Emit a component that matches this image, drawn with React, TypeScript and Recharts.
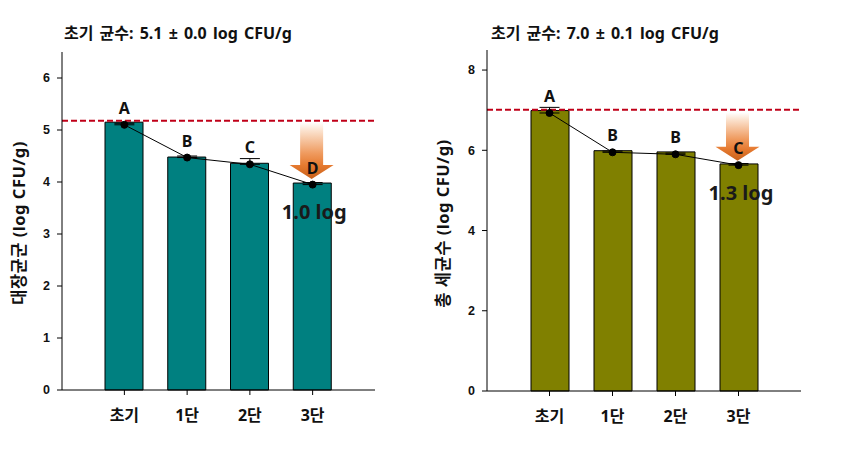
import React from 'react';
import {
  ComposedChart,
  Bar,
  Line,
  XAxis,
  YAxis,
  ReferenceLine,
  ReferenceArea,
  ErrorBar,
  LabelList,
  Label,
} from 'recharts';

// ---------- data ----------
const categories = ['초기', '1단', '2단', '3단'];

// 대장균군 (left panel)
const coliformBars = [5.15, 4.48, 4.36, 3.98];
const coliformPoints = [5.1, 4.47, 4.34, 3.95];
const coliformErrors = [0.03, 0.03, 0.11, 0.04];
const coliformLetters = ['A', 'B', 'C', 'D'];
const coliformNotes = ['', '', '', '1.0 log'];
const coliformInitialLine = 5.18;
const coliformArrow = [4.06, 5.15]; // [tip, top]
const coliformTicks = [0, 1, 2, 3, 4, 5, 6];
const coliformDomain = [0, 6.5];
const coliformTitle = '초기 균수: 5.1 ± 0.0 log CFU/g';
const coliformYLabel = '대장균군 (log CFU/g)';

// 총 세균수 (right panel)
const totalBars = [6.99, 5.99, 5.96, 5.66];
const totalPoints = [6.93, 5.95, 5.9, 5.63];
const totalErrors = [0.14, 0.03, 0.03, 0.04];
const totalLetters = ['A', 'B', 'B', 'C'];
const totalNotes = ['', '', '', '1.3 log'];
const totalInitialLine = 7.01;
const totalArrow = [5.74, 6.94];
const totalTicks = [0, 2, 4, 6, 8];
const totalDomain = [0, 8.5];
const totalTitle = '초기 균수: 7.0 ± 0.1 log CFU/g';
const totalYLabel = '총 세균수 (log CFU/g)';

const KFONT = '"Noto Sans", "Noto Sans CJK KR", sans-serif';
const NFONT = '"Liberation Sans", Arial, sans-serif';

type PanelProps = {
  left: number;
  width: number;
  yAxisWidth: number;
  marginRight: number;
  marginTop: number;
  xAxisHeight: number;
  bars: number[];
  points: number[];
  errors: number[];
  letters: string[];
  notes: string[];
  initialLine: number;
  arrow: number[];
  ticks: number[];
  domain: number[];
  barColor: string;
  yLabel: string;
  yLabelX: number;
  yLabelDy: number;
  gradId: string;
};

function Panel(p: PanelProps) {
  const data = categories.map((cat, i) => ({
    cat,
    bar: p.bars[i],
    point: p.points[i],
    err: [0, p.errors[i]],
    letter: p.letters[i],
    note: p.notes[i],
  }));
  const lastCat = categories[categories.length - 1];

  const arrowShape = (props: any) => {
    const { x, y, width, height } = props;
    const cx = x + width / 2 - 1;
    const yb = y + height;
    const sw = 11.5;
    const hw = 22;
    const hh = 14;
    const pts = [
      [cx - sw, y],
      [cx + sw, y],
      [cx + sw, yb - hh],
      [cx + hw, yb - hh],
      [cx, yb],
      [cx - hw, yb - hh],
      [cx - sw, yb - hh],
    ]
      .map((q) => q.join(','))
      .join(' ');
    return (
      <g>
        <defs>
          <linearGradient id={p.gradId} x1="0" y1="0" x2="0" y2="1">
            <stop offset="0" stopColor="#FFFFFF" />
            <stop offset="0.15" stopColor="#FBE2CE" />
            <stop offset="0.55" stopColor="#EF9A5E" />
            <stop offset="0.76" stopColor="#E67A30" />
            <stop offset="1" stopColor="#C8611A" />
          </linearGradient>
        </defs>
        <polygon points={pts} fill={`url(#${p.gradId})`} stroke="none" />
      </g>
    );
  };

  const noteContent = (props: any) => {
    const { x, y, width, value } = props;
    if (!value) return null;
    return (
      <text
        x={x + width / 2 + 2}
        y={y + 36}
        textAnchor="middle"
        fontFamily={'"Noto Sans", sans-serif'}
        fontWeight={700}
        fontSize={20}
        fill="#1a1a1a"
      >
        {value}
      </text>
    );
  };

  const yLabelContent = (props: any) => {
    const vb = props.viewBox || {};
    const lx = (vb.x || 0) + p.yLabelX;
    const ly = (vb.y || 0) + (vb.height || 0) / 2 + p.yLabelDy;
    return (
      <text
        x={lx}
        y={ly}
        transform={`rotate(-90, ${lx}, ${ly})`}
        textAnchor="middle"
        dominantBaseline="central"
        fontFamily={KFONT}
        fontWeight={700}
        fontSize={16.5}
        letterSpacing={0.5}
        fill="#111"
      >
        {p.yLabel}
      </text>
    );
  };

  return (
    <div style={{ position: 'absolute', left: p.left, top: 0 }}>
      <ComposedChart
        width={p.width}
        height={451}
        data={data}
        margin={{ top: p.marginTop, right: p.marginRight, bottom: 0, left: 0 }}
      >
        <XAxis
          dataKey="cat"
          type="category"
          padding={{ left: 31, right: 31 }}
          height={p.xAxisHeight}
          axisLine={{ stroke: '#000', strokeWidth: 1 }}
          tickLine={{ stroke: '#000' }}
          tickSize={5}
          tickMargin={15}
          tick={{ fontFamily: KFONT, fontWeight: 700, fontSize: 16, fill: '#111' }}
          interval={0}
        />
        <XAxis
          xAxisId="top"
          orientation="top"
          dataKey="cat"
          type="category"
          padding={{ left: 31, right: 31 }}
          height={0}
          tick={false}
          tickLine={false}
          axisLine={{ stroke: '#000', strokeWidth: 1 }}
        />
        <YAxis
          type="number"
          domain={p.domain}
          ticks={p.ticks}
          width={p.yAxisWidth}
          axisLine={{ stroke: '#000', strokeWidth: 1 }}
          tickLine={{ stroke: '#000' }}
          tickSize={5}
          tickMargin={7}
          tick={{ fontFamily: NFONT, fontWeight: 700, fontSize: 12.5, fill: '#111' }}
          interval={0}
        >
          <Label content={yLabelContent} />
        </YAxis>
        <YAxis
          yAxisId="right"
          orientation="right"
          type="number"
          domain={p.domain}
          width={0}
          tick={false}
          tickLine={false}
          axisLine={{ stroke: '#000', strokeWidth: 1 }}
        />
        <Bar
          dataKey="bar"
          fill={p.barColor}
          stroke="#000"
          strokeWidth={1}
          barSize={38}
          isAnimationActive={false}
        >
          <LabelList dataKey="note" content={noteContent} />
        </Bar>
        <ReferenceLine
          y={p.initialLine}
          stroke="#C00018"
          strokeWidth={2}
          strokeDasharray="6 3"
        />
        <ReferenceArea
          x1={lastCat}
          x2={lastCat}
          y1={p.arrow[0]}
          y2={p.arrow[1]}
          shape={arrowShape}
        />
        <Line
          dataKey="point"
          stroke="#000"
          strokeWidth={1}
          dot={{ r: 3.5, fill: '#000', stroke: '#000', strokeWidth: 1 }}
          activeDot={false}
          isAnimationActive={false}
        >
          <ErrorBar dataKey="err" width={10} stroke="#000" strokeWidth={1} direction="y" />
          <LabelList
            dataKey="letter"
            position="top"
            offset={11}
            fill="#111"
            fontSize={16}
            fontWeight={700}
            fontFamily={'"Noto Sans", sans-serif'}
          />
        </Line>
      </ComposedChart>
    </div>
  );
}

export default function App() {
  const titleStyle: React.CSSProperties = {
    position: 'absolute',
    top: 23,
    fontFamily: KFONT,
    fontWeight: 700,
    fontSize: 16,
    lineHeight: '20px',
    wordSpacing: 2,
    color: '#111',
    whiteSpace: 'nowrap',
  };
  return (
    <div
      style={{
        position: 'absolute',
        left: 0,
        top: 0,
        width: 843,
        height: 451,
        background: '#fff',
        overflow: 'hidden',
      }}
    >
      <Panel
        left={0}
        width={400}
        yAxisWidth={62}
        marginRight={25}
        marginTop={52}
        xAxisHeight={61}
        bars={coliformBars}
        points={coliformPoints}
        errors={coliformErrors}
        letters={coliformLetters}
        notes={coliformNotes}
        initialLine={coliformInitialLine}
        arrow={coliformArrow}
        ticks={coliformTicks}
        domain={coliformDomain}
        barColor="#008080"
        yLabel={coliformYLabel}
        yLabelX={18}
        yLabelDy={2}
        gradId="arrowGradLeft"
      />
      <Panel
        left={420}
        width={400}
        yAxisWidth={67}
        marginRight={19}
        marginTop={50}
        xAxisHeight={60}
        bars={totalBars}
        points={totalPoints}
        errors={totalErrors}
        letters={totalLetters}
        notes={totalNotes}
        initialLine={totalInitialLine}
        arrow={totalArrow}
        ticks={totalTicks}
        domain={totalDomain}
        barColor="#808000"
        yLabel={totalYLabel}
        yLabelX={22}
        yLabelDy={3}
        gradId="arrowGradRight"
      />
      <div style={{ ...titleStyle, left: 64 }}>{coliformTitle}</div>
      <div style={{ ...titleStyle, left: 491 }}>{totalTitle}</div>
    </div>
  );
}
